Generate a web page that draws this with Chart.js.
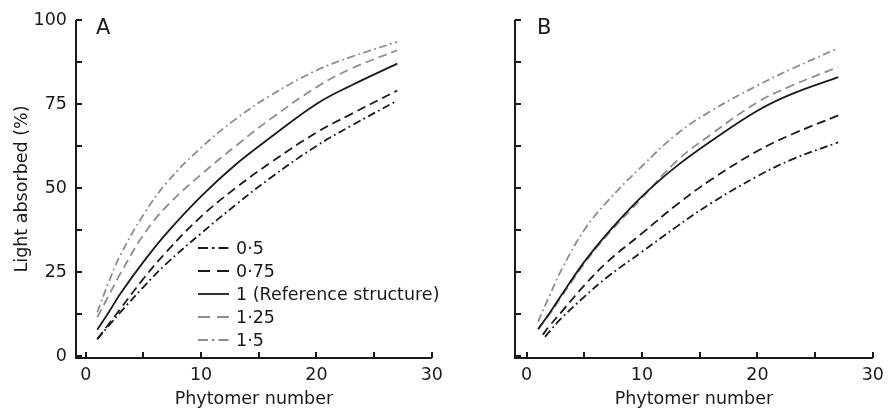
<!DOCTYPE html>
<html>
<head>
<meta charset="utf-8">
<script src="https://cdn.jsdelivr.net/npm/chart.js@4.4.1/dist/chart.umd.min.js"></script>
<style>
  html, body { margin: 0; padding: 0; background: #fff; }
  #wrap { position: relative; width: 891px; height: 411px; overflow: hidden; }
  #panelA { position: absolute; left: 0; top: 0; }
  #panelB { position: absolute; left: 450px; top: 0; }
</style>
</head>
<body>
<div id="wrap">
  <canvas id="panelA" width="450" height="411"></canvas>
  <canvas id="panelB" width="441" height="411"></canvas>
</div>
<script>
// tick labels and legend text
const xTicks = [0, 10, 20, 30];
const yTicks = [0, 25, 50, 75, 100];
const seriesLabels = ['0·5', '0·75', '1 (Reference structure)', '1·25', '1·5'];

// panel A
const phytomerA = [1, 2, 3, 5, 7, 10, 13, 16, 20, 23, 27];
const a050 = [5.0, 9.0, 13.0, 20.5, 27.5, 36.5, 45.0, 53.0, 62.5, 68.5, 76.0];
const a075 = [5.0, 9.5, 14.0, 23.0, 31.0, 41.5, 50.0, 57.5, 66.5, 72.0, 79.0];
const a100 = [7.8, 13.0, 18.5, 28.0, 36.5, 47.5, 57.0, 65.0, 75.0, 80.5, 87.0];
const a125 = [11.5, 18.0, 24.5, 36.0, 44.5, 54.0, 62.5, 70.5, 80.0, 85.5, 91.0];
const a150 = [13.0, 22.0, 30.0, 42.0, 51.5, 62.0, 70.5, 77.5, 85.0, 89.0, 93.5];

// panel B (the two lower curves start a little later)
const phytomerB = [1, 2, 3, 5, 7, 10, 13, 16, 20, 23, 27];
const phytomerB075 = [1.4, 2, 3, 5, 7, 10, 13, 16, 20, 23, 27];
const phytomerB050 = [1.6, 2, 3, 5, 7, 10, 13, 16, 20, 23, 27];
const b050 = [5.7, 7.3, 11.2, 17.6, 23.5, 31.0, 38.5, 45.5, 53.5, 58.5, 63.6];
const b075 = [6.3, 9.0, 13.0, 21.0, 28.0, 36.5, 45.0, 52.5, 61.0, 66.0, 71.6];
const b100 = [8.0, 12.8, 18.0, 28.0, 36.5, 47.5, 56.5, 64.0, 73.0, 78.0, 83.0];
const b125 = [8.0, 12.5, 17.5, 27.5, 36.0, 47.0, 58.0, 66.0, 75.5, 80.5, 86.0];
const b150 = [10.2, 18.0, 25.5, 37.5, 46.0, 56.5, 66.0, 73.0, 80.5, 85.5, 91.6];

const INK = '#1a1a1a';
const GREY = '#8d8d8d';
const FONT = 'DejaVu Sans';
const DASH = [9, 5];
const DASHDOT = [8, 3.5, 1.8, 3.5];
const lineStyles = [
  { color: INK, dash: DASHDOT, legendDash: [10, 4, 2.5, 4] },
  { color: INK, dash: DASH, legendDash: [12, 7] },
  { color: INK, dash: [], legendDash: [] },
  { color: GREY, dash: DASH, legendDash: [12, 7] },
  { color: GREY, dash: DASHDOT, legendDash: [10, 4, 2.5, 4] },
];

const toPoints = (xs, ys) => xs.map((x, i) => ({ x, y: ys[i] }));

function makeDatasets(xsList, ysList) {
  return ysList.map((ys, i) => ({
    label: seriesLabels[i],
    data: toPoints(xsList[i], ys),
    borderColor: lineStyles[i].color,
    borderDash: lineStyles[i].dash,
    borderWidth: 1.8,
    pointRadius: 0,
    fill: false,
    tension: 0.4,
  }));
}

// axis lines, inward ticks and panel letter
const framePlugin = {
  id: 'frame',
  afterDraw(chart, args, opts) {
    const { ctx, chartArea: a, scales: { x, y } } = chart;
    ctx.save();
    ctx.strokeStyle = INK;
    ctx.lineWidth = 2;
    ctx.beginPath();
    const top = y.getPixelForValue(100);
    const right = x.getPixelForValue(30);
    ctx.moveTo(a.left, top);
    ctx.lineTo(a.left, a.bottom);
    ctx.lineTo(right, a.bottom);
    for (let v = 0; v <= 100; v += 12.5) {
      const py = Math.round(y.getPixelForValue(v));
      ctx.moveTo(a.left, py);
      ctx.lineTo(a.left + 6, py);
    }
    for (let v = 0; v <= 30; v += 5) {
      const px = Math.round(x.getPixelForValue(v));
      ctx.moveTo(px, a.bottom);
      ctx.lineTo(px, a.bottom - 6);
    }
    ctx.stroke();
    ctx.fillStyle = INK;
    ctx.font = `21px "${FONT}"`;
    ctx.textBaseline = 'alphabetic';
    ctx.fillText(opts.letter, opts.letterX, 34);
    ctx.restore();
  }
};

// legend drawn inside panel A
const insideLegend = {
  id: 'insideLegend',
  afterDraw(chart, args, opts) {
    if (!opts.show) return;
    const { ctx } = chart;
    ctx.save();
    ctx.font = `17.5px "${FONT}"`;
    ctx.textBaseline = 'middle';
    chart.data.datasets.forEach((ds, i) => {
      const yy = opts.top + i * opts.step;
      ctx.strokeStyle = ds.borderColor;
      ctx.lineWidth = 1.8;
      ctx.setLineDash(lineStyles[i].legendDash);
      ctx.beginPath();
      ctx.moveTo(opts.left, yy);
      ctx.lineTo(opts.left + 31, yy);
      ctx.stroke();
      ctx.setLineDash([]);
      ctx.fillStyle = INK;
      ctx.fillText(ds.label, opts.left + 38, yy + 1);
    });
    ctx.restore();
  }
};

function buildChart(id, datasets, cfg) {
  const ctx = document.getElementById(id).getContext('2d');
  return new Chart(ctx, {
    type: 'line',
    data: { datasets },
    plugins: [framePlugin, insideLegend],
    options: {
      responsive: false,
      animation: false,
      devicePixelRatio: 1,
      layout: { padding: { left: 0, right: cfg.padRight, top: 20, bottom: 0 } },
      plugins: {
        legend: { display: false },
        tooltip: { enabled: false },
        frame: { letter: cfg.letter, letterX: cfg.letterX },
        insideLegend: { show: cfg.legend, left: 198, top: 248, step: 23 },
      },
      scales: {
        x: {
          type: 'linear',
          min: cfg.xMin,
          max: 30,
          grid: { display: false, drawTicks: false },
          border: { display: false },
          afterBuildTicks: s => { s.ticks = xTicks.map(v => ({ value: v })); },
          afterFit: s => { s.height = 53; },
          ticks: { color: INK, padding: 7, maxRotation: 0, font: { family: FONT, size: 17.5 } },
          title: {
            display: true,
            text: 'Phytomer number',
            color: INK,
            padding: { top: 0, bottom: 1 },
            font: { family: FONT, size: 17.5 },
          },
        },
        y: {
          min: -0.6,
          max: 100,
          grid: { display: false, drawTicks: false },
          border: { display: false },
          afterBuildTicks: s => { s.ticks = yTicks.map(v => ({ value: v })); },
          afterFit: s => { s.width = cfg.yWidth; },
          ticks: { display: cfg.yLabels, color: INK, padding: 9, font: { family: FONT, size: 17.5 } },
          title: {
            display: cfg.yLabels,
            text: 'Light absorbed (%)',
            color: INK,
            padding: { top: 12, bottom: 0 },
            font: { family: FONT, size: 17.5 },
          },
        },
      },
    },
  });
}

buildChart('panelA',
  makeDatasets([phytomerA, phytomerA, phytomerA, phytomerA, phytomerA], [a050, a075, a100, a125, a150]),
  { letter: 'A', letterX: 96, xMin: -0.84, yWidth: 76, padRight: 11, yLabels: true, legend: true });

buildChart('panelB',
  makeDatasets([phytomerB050, phytomerB075, phytomerB, phytomerB, phytomerB], [b050, b075, b100, b125, b150]),
  { letter: 'B', letterX: 87, xMin: -1.0, yWidth: 65, padRight: 13, yLabels: false, legend: false });
</script>
</body>
</html>
